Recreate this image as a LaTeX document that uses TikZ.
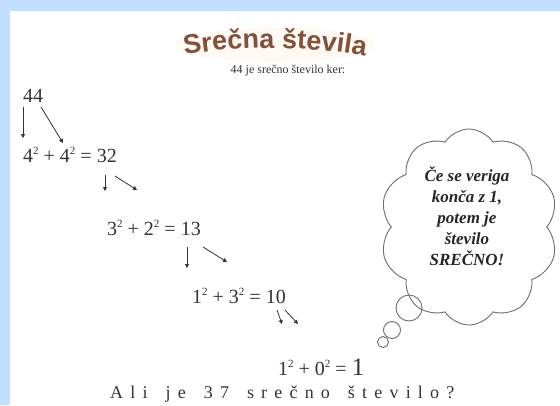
\documentclass[tikz,border=0pt]{standalone}
\usepackage{fontspec}
\setmainfont{Liberation Serif}
\newfontfamily\titlefont{Liberation Sans}
\newfontfamily\cloudfont{Liberation Serif Bold Italic}
\usetikzlibrary{shapes.symbols,arrows.meta,decorations.text}
\definecolor{frameblue}{HTML}{C2DFFF}
\definecolor{titlebrown}{HTML}{81513B}
\definecolor{titleglow}{HTML}{FFF9F3}
\definecolor{inkgray}{HTML}{333333}
\definecolor{cloudgray}{HTML}{6E6E6E}
\newcommand\sqd[1]{#1\raisebox{0.38em}{\fontsize{11}{11}\selectfont 2}}
\newcommand\ls{\kern7.2pt}
\newcommand\wgap{\hspace{18pt}}
\begin{document}
\begin{tikzpicture}[x=1pt,y=-1pt,
  eqtext/.style={anchor=base west, inner sep=0pt, text=inkgray, font=\fontsize{20}{24}\selectfont},
  chainarrow/.style={draw=inkgray, line width=0.8pt, -{Triangle[length=4pt,width=4pt]}},
  bubble/.style={circle, draw=cloudgray, line width=0.9pt, inner sep=0pt},
]
\useasboundingbox (0,0) rectangle (560,405);
\fill[white] (0,0) rectangle (560,405);
\fill[frameblue] (0,0) rectangle (560,11);
\fill[frameblue] (0,0) rectangle (10,405);

% title (slightly arched word-art with a faint glow)
\fill[titleglow] (275,45) ellipse (100pt and 17pt);
\path[decorate, decoration={text along path, text align=center,
   text={|\titlefont\bfseries\fontsize{27}{30}\selectfont|Srečna števila},
   text color=titlebrown}]
   (178,56) .. controls (236,45) and (314,45) .. (372,58);
\node (sub) [font=\fontsize{12}{14}\selectfont, text=inkgray, inner sep=0pt] at (288,71) {44 je srečno število ker:};

% chain
\node (n44) [eqtext] at (23,102) {44};
\node (e1) [eqtext] at (23,162) {\sqd{4} + \sqd{4} = 32};
\node (e2) [eqtext] at (107,235) {\sqd{3} + \sqd{2} = 13};
\node (e3) [eqtext] at (192,303) {\sqd{1} + \sqd{3} = 10};
\node (e4) [eqtext] at (278,375) {\sqd{1} + \sqd{0} = {\fontsize{25}{25}\selectfont 1}};

\coordinate (a1s) at (23,107);  \coordinate (a1e) at (23,138);
\coordinate (a2s) at (41,107);  \coordinate (a2e) at (63,143);
\coordinate (a3s) at (105,175); \coordinate (a3e) at (105,191);
\coordinate (a4s) at (115,176); \coordinate (a4e) at (137,190);
\coordinate (a5s) at (187,247); \coordinate (a5e) at (187,268);
\coordinate (a6s) at (203,247); \coordinate (a6e) at (227,262);
\coordinate (a7s) at (277,310); \coordinate (a7e) at (282,324);
\coordinate (a8s) at (285,310); \coordinate (a8e) at (298,324);
\foreach \i in {1,...,8} { \draw[chainarrow] (a\i s) -- (a\i e); }

% thought cloud
\node (cloud) [cloud, cloud puffs=10, cloud puff arc=115, aspect=0.95,
  draw=cloudgray, line width=0.9pt, minimum width=178pt, minimum height=196pt,
  inner sep=0pt] at (469,227) {};
\node (cloudtext) [align=center, inner sep=0pt, text=black!85,
  font=\cloudfont\fontsize{17}{21}\selectfont] at (467,216)
  {Če se veriga\\konča z 1,\\potem je\\število\\SREČNO!};
\node (b1) [bubble, minimum size=26pt] at (409,308) {};
\node (b2) [bubble, minimum size=17pt] at (392,330) {};
\node (b3) [bubble, minimum size=11pt] at (383,342) {};

% question
\node (question) [anchor=base west, inner sep=0pt, text=inkgray,
  font=\fontsize{18}{20}\selectfont] at (110,398)
  {A\ls l\ls i\wgap j\ls e\wgap 3\ls 7\wgap s\ls r\ls e\ls č\ls n\ls o\wgap š\ls t\ls e\ls v\ls i\ls l\ls o\ls ?};
\end{tikzpicture}
\end{document}
